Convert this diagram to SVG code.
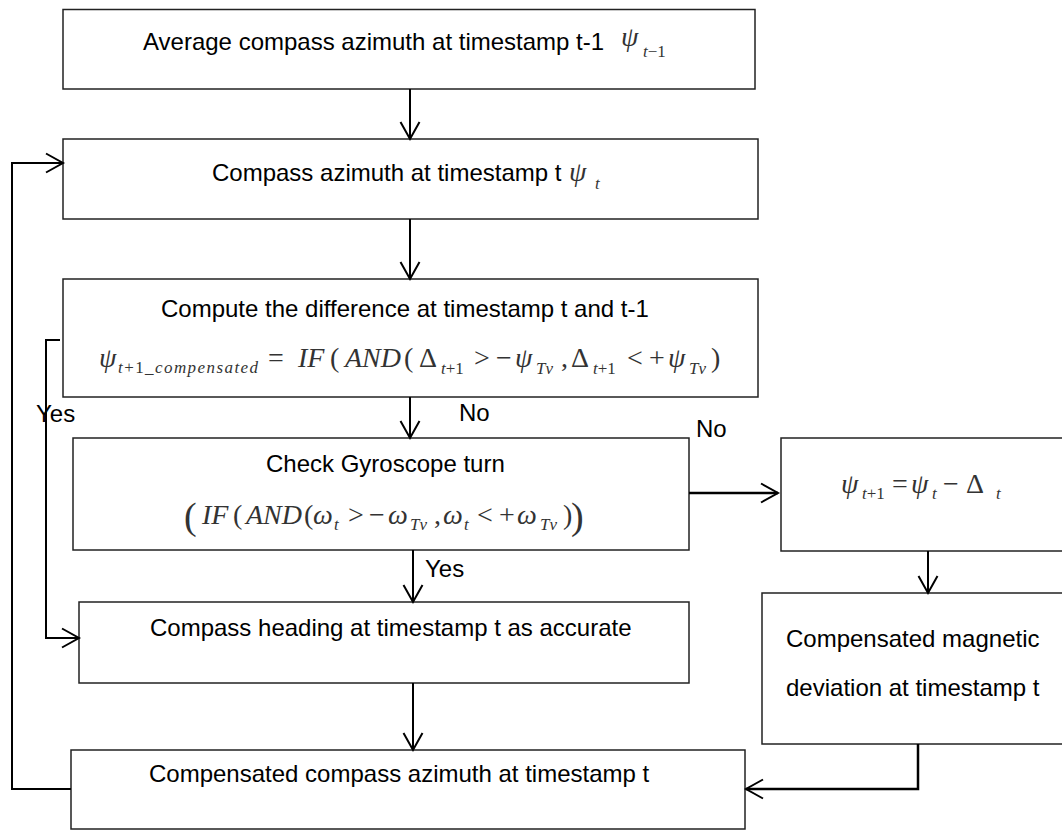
<svg xmlns="http://www.w3.org/2000/svg" width="1062" height="830" viewBox="0 0 1062 830">
  <defs>
    <style>
      .box { fill: #fff; stroke: #222; stroke-width: 1.5; }
      .lbl { font-family: "Liberation Sans", Arial, sans-serif; font-size: 24px; fill: #000; }
      .m { font-family: "Liberation Serif", "Times New Roman", serif; font-style: italic; fill: #333; font-size: 28px; }
      .u { font-style: normal; }
      .sub { font-size: 17px; }
      .conn { fill: none; stroke: #000; stroke-width: 2; }
      .thick { stroke-width: 2.5; }
    </style>
    <marker id="arrow" markerUnits="userSpaceOnUse" markerWidth="22" markerHeight="24" viewBox="0 0 22 24" refX="19" refY="12" orient="auto">
      <path d="M2,2.5 L19,12 L2,21.5" fill="none" stroke="#000" stroke-width="2"/>
    </marker>
  </defs>
  <rect width="1062" height="830" fill="#fff"/>

  <!-- start: previous average -->
  <g id="avg-prev">
    <rect class="box" x="63" y="9.5" width="692" height="79.5"/>
    <text class="lbl" x="143" y="50">Average compass azimuth at timestamp t-1</text>
    <text class="m" font-size="26"><tspan x="621" y="46">ψ</tspan><tspan class="sub" x="643" y="57">t</tspan><tspan class="sub u">−1</tspan></text>
  </g>

  <!-- current compass reading -->
  <g id="azimuth-t">
    <rect class="box" x="63" y="139" width="695" height="80"/>
    <text class="lbl" x="212" y="181">Compass azimuth at timestamp t</text>
    <text class="m" font-size="26"><tspan x="569" y="181">ψ</tspan><tspan class="sub" x="595" y="189">t</tspan></text>
  </g>

  <!-- difference test -->
  <g id="difference">
    <rect class="box" x="63" y="279" width="695" height="118"/>
    <text class="lbl" x="161" y="317">Compute the difference at timestamp t and t-1</text>
    <text class="m"><tspan x="99" y="367">ψ</tspan><tspan class="sub" x="118" y="373" textLength="140">t<tspan class="u">+1_</tspan>compensated</tspan><tspan class="u" x="268" y="367">=</tspan><tspan x="298">IF</tspan><tspan class="u" x="330">(</tspan><tspan x="345">AND</tspan><tspan class="u" x="404">(</tspan><tspan class="u" x="419">Δ</tspan><tspan class="sub" x="441" y="374">t<tspan class="u">+1</tspan></tspan><tspan class="u" x="474" y="367">&gt;</tspan><tspan class="u" x="496">−</tspan><tspan x="515">ψ</tspan><tspan class="sub" x="536" y="374">Tv</tspan><tspan class="u" x="561" y="367">,</tspan><tspan class="u" x="571">Δ</tspan><tspan class="sub" x="593" y="374">t<tspan class="u">+1</tspan></tspan><tspan class="u" x="627" y="367">&lt;</tspan><tspan class="u" x="649">+</tspan><tspan x="668">ψ</tspan><tspan class="sub" x="689" y="374">Tv</tspan><tspan class="u" x="711" y="367">)</tspan></text>
  </g>

  <!-- gyroscope check -->
  <g id="gyro-check">
    <rect class="box" x="73" y="438" width="616" height="112"/>
    <text class="lbl" x="266" y="472">Check Gyroscope turn</text>
    <text class="m"><tspan class="u" x="184" y="529" font-size="38">(</tspan><tspan x="202" y="524">IF</tspan><tspan class="u" x="233">(</tspan><tspan x="246">AND</tspan><tspan class="u" x="304">(</tspan><tspan x="313">ω</tspan><tspan class="sub" x="334" y="530">t</tspan><tspan class="u" x="348" y="524">&gt;</tspan><tspan class="u" x="369">−</tspan><tspan x="388">ω</tspan><tspan class="sub" x="410" y="530">Tv</tspan><tspan class="u" x="434" y="524">,</tspan><tspan x="443">ω</tspan><tspan class="sub" x="464" y="530">t</tspan><tspan class="u" x="477" y="524">&lt;</tspan><tspan class="u" x="499">+</tspan><tspan x="517">ω</tspan><tspan class="sub" x="540" y="530">Tv</tspan><tspan class="u" x="563" y="524">)</tspan><tspan class="u" x="571" y="529" font-size="38">)</tspan></text>
  </g>

  <!-- accepted heading -->
  <g id="heading-accurate">
    <rect class="box" x="79" y="602" width="610" height="81"/>
    <text class="lbl" x="150" y="636">Compass heading at timestamp t as accurate</text>
  </g>

  <!-- correction step -->
  <g id="correction">
    <rect class="box" x="781" y="438" width="300" height="113"/>
    <text class="m"><tspan x="841" y="493">ψ</tspan><tspan class="sub" x="862" y="499">t<tspan class="u">+1</tspan></tspan><tspan class="u" x="892" y="493">=</tspan><tspan x="911">ψ</tspan><tspan class="sub" x="932" y="499">t</tspan><tspan class="u" x="943" y="493">−</tspan><tspan class="u" x="966">Δ</tspan><tspan class="sub" x="996" y="499">t</tspan></text>
  </g>

  <!-- compensated deviation -->
  <g id="deviation">
    <rect class="box" x="762" y="593" width="320" height="151"/>
    <text class="lbl" x="786" y="647">Compensated magnetic</text>
    <text class="lbl" x="786" y="696">deviation at timestamp t</text>
  </g>

  <!-- output -->
  <g id="compensated-azimuth">
    <rect class="box" x="71" y="750" width="674" height="79"/>
    <text class="lbl" x="149" y="782">Compensated compass azimuth at timestamp t</text>
  </g>

  <g id="connectors">
    <path class="conn" d="M410,89 V139" marker-end="url(#arrow)"/>
    <path class="conn" d="M410,219 V279" marker-end="url(#arrow)"/>
    <path class="conn" d="M410,397 V438" marker-end="url(#arrow)"/>
    <path class="conn thick" d="M689,493 H778" marker-end="url(#arrow)"/>
    <path class="conn" d="M413,550 V602" marker-end="url(#arrow)"/>
    <path class="conn" d="M928,551 V593" marker-end="url(#arrow)"/>
    <path class="conn" d="M413,683 V750" marker-end="url(#arrow)"/>
    <path class="conn thick" d="M918,744 V789 H746" marker-end="url(#arrow)"/>
    <path class="conn" d="M71,789 H12 V163 H63" marker-end="url(#arrow)"/>
    <path class="conn" d="M60,340 H46 V638 H79" marker-end="url(#arrow)"/>
    <g class="lbl">
      <text x="459" y="421">No</text>
      <text x="696" y="437">No</text>
      <text x="36" y="422">Yes</text>
      <text x="425" y="577">Yes</text>
    </g>
  </g>
</svg>
